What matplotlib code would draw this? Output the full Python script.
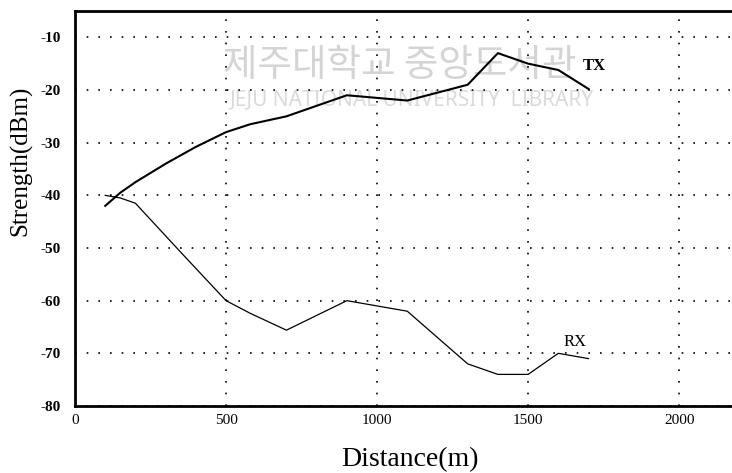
import matplotlib
matplotlib.use("Agg")
import matplotlib.pyplot as plt

plt.rcParams["axes.unicode_minus"] = False

# values
tx_dist = [100, 150, 200, 300, 400, 500, 580, 700, 900, 1000, 1100, 1300, 1400, 1500, 1600, 1700]
tx_dbm = [-42, -39.5, -37.5, -34, -30.8, -28, -26.5, -25, -21, -21.5, -22, -19, -13, -15, -16.2, -19.8]

rx_dist = [100, 150, 200, 350, 500, 580, 700, 900, 1000, 1100, 1300, 1400, 1500, 1600, 1700]
rx_dbm = [-40, -40.5, -41.5, -50.8, -60, -62.4, -65.6, -60, -61, -62, -72, -74, -74, -70, -71]

x_ticks = [0, 500, 1000, 1500, 2000]
y_ticks = [-80, -70, -60, -50, -40, -30, -20, -10]

serif = ["Liberation Serif", "DejaVu Serif"]

fig = plt.figure(figsize=(7.32, 4.73), dpi=100)
ax = fig.add_axes([75 / 732, 67 / 473, 1 - 75 / 732, (406 - 11) / 473])

# faint library watermark behind the data
ax.text(0.225, 0.862, "제주대학교 중앙도서관", transform=ax.transAxes, fontsize=27,
        color="#d4d4d4", family=["Noto Sans CJK KR", "DejaVu Sans"], va="center", zorder=0)
ax.text(0.235, 0.775, "JEJU NATIONAL UNIVERSITY  LIBRARY", transform=ax.transAxes, fontsize=15,
        color="#dadada", family=["Noto Sans", "DejaVu Sans"], va="center", zorder=0)

ax.plot(tx_dist, tx_dbm, color="black", lw=1.5, zorder=3)
ax.plot(rx_dist, rx_dbm, color="black", lw=0.9, zorder=3)

ax.text(1720, -15.4, "TX", fontsize=12, fontweight="bold", family=serif, ha="center", va="center")
ax.text(1656, -67.8, "RX", fontsize=12, family=serif, ha="center", va="center")

ax.set_xlim(0, 2175)
ax.set_ylim(-80, -5)
ax.set_xticks(x_ticks)
ax.set_yticks(y_ticks)
ax.grid(True, color="black", linestyle=(0, (1, 6)), linewidth=1.2)
ax.tick_params(length=0, labelsize=11)
ax.tick_params(axis="y", pad=10)
ax.tick_params(axis="x", pad=6)
for lab in ax.get_xticklabels():
    lab.set_family(serif)
for lab in ax.get_yticklabels():
    lab.set_family(serif)
    lab.set_fontweight("bold")

ax.spines["right"].set_visible(False)
for s in ["left", "bottom", "top"]:
    ax.spines[s].set_linewidth(2)

ax.set_xlabel("Distance(m)", fontsize=20, family=serif)
ax.xaxis.set_label_coords(0.51, -0.105)
ax.set_ylabel("Strength(dBm)", fontsize=18, family=serif)
ax.yaxis.set_label_coords(-0.065, 0.62)

fig.savefig("out.png", dpi=100)
